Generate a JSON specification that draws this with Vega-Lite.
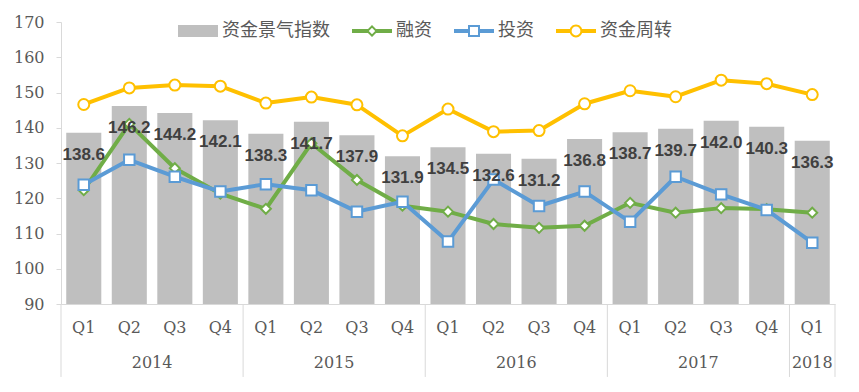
{
  "$schema": "https://vega.github.io/schema/vega-lite/v6.json",
  "width": 774,
  "height": 282,
  "autosize": {"type": "none"},
  "padding": {"left": 61, "top": 22, "right": 24, "bottom": 88},
  "background": "white",
  "config": {
    "view": {"stroke": null},
    "font": "Liberation Sans",
    "axisY": {"labelOverlap": false, "grid": false, "title": null, "domainColor": "#d9d9d9", "tickColor": "#d9d9d9", "tickSize": 5,
      "labelColor": "#595959", "labelFont": "DejaVu Serif", "labelFontSize": 16, "labelPadding": 12}
  },
  "data": {"values": [
    {"q": "2014Q1", "idx": 138.6, "fin": 122.3, "inv": 123.8, "turn": 146.6},
    {"q": "2014Q2", "idx": 146.2, "fin": 141.1, "inv": 130.9, "turn": 151.3},
    {"q": "2014Q3", "idx": 144.2, "fin": 128.5, "inv": 126.1, "turn": 152.1},
    {"q": "2014Q4", "idx": 142.1, "fin": 121.3, "inv": 121.9, "turn": 151.8},
    {"q": "2015Q1", "idx": 138.3, "fin": 117.0, "inv": 124.0, "turn": 147.0},
    {"q": "2015Q2", "idx": 141.7, "fin": 135.6, "inv": 122.3, "turn": 148.7},
    {"q": "2015Q3", "idx": 137.9, "fin": 125.2, "inv": 116.2, "turn": 146.5},
    {"q": "2015Q4", "idx": 131.9, "fin": 117.9, "inv": 119.0, "turn": 137.7},
    {"q": "2016Q1", "idx": 134.5, "fin": 116.2, "inv": 107.7, "turn": 145.3},
    {"q": "2016Q2", "idx": 132.6, "fin": 112.7, "inv": 125.3, "turn": 138.9},
    {"q": "2016Q3", "idx": 131.2, "fin": 111.6, "inv": 117.8, "turn": 139.2},
    {"q": "2016Q4", "idx": 136.8, "fin": 112.2, "inv": 121.9, "turn": 146.8},
    {"q": "2017Q1", "idx": 138.7, "fin": 118.7, "inv": 113.3, "turn": 150.5},
    {"q": "2017Q2", "idx": 139.7, "fin": 115.9, "inv": 126.1, "turn": 148.8},
    {"q": "2017Q3", "idx": 142.0, "fin": 117.2, "inv": 121.1, "turn": 153.5},
    {"q": "2017Q4", "idx": 140.3, "fin": 116.9, "inv": 116.7, "turn": 152.5},
    {"q": "2018Q1", "idx": 136.3, "fin": 115.9, "inv": 107.4, "turn": 149.4}
  ]},
  "encoding": {
    "x": {
      "field": "q", "type": "ordinal",
      "scale": {"paddingInner": 0, "paddingOuter": 0},
      "axis": {
        "title": null, "labelAngle": 0, "ticks": false,
        "labelExpr": "substring(datum.value, 4)",
        "domainColor": "#d9d9d9", "labelColor": "#595959",
        "labelFont": "DejaVu Serif", "labelFontSize": 16, "labelPadding": 15
      }
    }
  },
  "layer": [
    {
      "mark": {"type": "bar", "width": {"band": 0.77}, "color": "#bfbfbf"},
      "encoding": {
        "y": {
          "field": "idx", "type": "quantitative",
          "scale": {"domain": [90, 170], "nice": false, "zero": false},
          "axis": {"values": [90, 100, 110, 120, 130, 140, 150, 160, 170], "labelOverlap": false}
        },
        "y2": {"datum": 90}
      }
    },
    {
      "mark": {"type": "line", "strokeWidth": 4, "strokeJoin": "round",
        "point": {"shape": "diamond", "size": 100, "filled": true, "fill": "white", "stroke": "#70ad47", "strokeWidth": 2}},
      "encoding": {
        "y": {"field": "fin", "type": "quantitative", "axis": {"values": [90, 100, 110, 120, 130, 140, 150, 160, 170], "labelOverlap": false}},
        "color": {
          "datum": "融资", "type": "nominal",
          "scale": {"domain": ["资金景气指数", "融资", "投资", "资金周转"], "range": ["#bfbfbf", "#70ad47", "#5b9bd5", "#ffc000"]},
          "legend": {
            "orient": "none", "legendX": 117, "legendY": -11, "direction": "horizontal",
            "title": null, "padding": 0, "symbolSize": 1600, "columnPadding": 22, "labelOffset": 4,
            "symbolStrokeWidth": 0,
            "labelFont": "Noto Sans CJK SC", "labelFontSize": 18, "labelColor": "#595959",
            "encode": {"symbols": {"update": {
              "shape": {"signal": "datum.value === '资金景气指数' ? 'M-1,-0.3H1V0.3H-1Z' : datum.value === '融资' ? 'M-1,-0.1H-0.2V0.1H-1ZM0.2,-0.1H1V0.1H0.2ZM0,-0.3L0.3,0L0,0.3L-0.3,0ZM0,-0.16L-0.16,0L0,0.16L0.16,0Z' : datum.value === '投资' ? 'M-1,-0.1H-0.3V0.1H-1ZM0.3,-0.1H1V0.1H0.3ZM-0.3,-0.3H0.3V0.3H-0.3ZM-0.2,-0.2V0.2H0.2V-0.2Z' : 'M-1,-0.1H-0.28V0.1H-1ZM0.28,-0.1H1V0.1H0.28ZM0.32,0A0.32,0.32,0,1,1,-0.32,0A0.32,0.32,0,1,1,0.32,0ZM0.22,0A0.22,0.22,0,1,0,-0.22,0A0.22,0.22,0,1,0,0.22,0Z'"},
              "opacity": {"value": 1}
            }}}
          }
        }
      }
    },
    {
      "mark": {"type": "line", "strokeWidth": 4, "strokeJoin": "round",
        "point": {"shape": "square", "size": 110, "filled": true, "fill": "white", "stroke": "#5b9bd5", "strokeWidth": 2}},
      "encoding": {
        "y": {"field": "inv", "type": "quantitative", "axis": {"values": [90, 100, 110, 120, 130, 140, 150, 160, 170], "labelOverlap": false}},
        "color": {"datum": "投资", "type": "nominal"}
      }
    },
    {
      "mark": {"type": "line", "strokeWidth": 4, "strokeJoin": "round",
        "point": {"shape": "circle", "size": 121, "filled": true, "fill": "white", "stroke": "#ffc000", "strokeWidth": 2}},
      "encoding": {
        "y": {"field": "turn", "type": "quantitative", "axis": {"values": [90, 100, 110, 120, 130, 140, 150, 160, 170], "labelOverlap": false}},
        "color": {"datum": "资金周转", "type": "nominal"}
      }
    },
    {
      "mark": {"type": "text", "dy": 22, "fontSize": 17, "fontWeight": "bold", "color": "#404040", "font": "Liberation Sans"},
      "encoding": {
        "y": {"field": "idx", "type": "quantitative", "axis": {"values": [90, 100, 110, 120, 130, 140, 150, 160, 170], "labelOverlap": false}},
        "text": {"field": "idx", "type": "quantitative", "format": ".1f"}
      }
    },
    {
      "data": {"values": [{"q": "2014Q4"}, {"q": "2015Q4"}, {"q": "2016Q4"}, {"q": "2017Q4"}, {"q": "2018Q1"}]},
      "mark": {"type": "rule", "color": "#d9d9d9", "strokeWidth": 1},
      "encoding": {
        "x": {"field": "q", "type": "ordinal", "bandPosition": 1},
        "y": {"datum": 90, "type": "quantitative", "axis": {"values": [90, 100, 110, 120, 130, 140, 150, 160, 170], "labelOverlap": false}},
        "y2": {"datum": 69.3}
      }
    },
    {
      "data": {"values": [{"q": "2014Q1"}]},
      "mark": {"type": "rule", "color": "#d9d9d9", "strokeWidth": 1},
      "encoding": {
        "x": {"field": "q", "type": "ordinal", "bandPosition": 0},
        "y": {"datum": 90, "type": "quantitative", "axis": {"values": [90, 100, 110, 120, 130, 140, 150, 160, 170], "labelOverlap": false}},
        "y2": {"datum": 69.3}
      }
    },
    {
      "data": {"values": [{"q": "2014Q2", "year": "2014"}, {"q": "2015Q2", "year": "2015"}, {"q": "2016Q2", "year": "2016"}, {"q": "2017Q2", "year": "2017"}]},
      "mark": {"type": "text", "fontSize": 16, "color": "#595959", "font": "DejaVu Serif"},
      "encoding": {
        "x": {"field": "q", "type": "ordinal", "bandPosition": 1},
        "y": {"datum": 73.3, "type": "quantitative", "axis": {"values": [90, 100, 110, 120, 130, 140, 150, 160, 170], "labelOverlap": false}},
        "text": {"field": "year"}
      }
    },
    {
      "data": {"values": [{"q": "2018Q1", "year": "2018"}]},
      "mark": {"type": "text", "fontSize": 16, "color": "#595959", "font": "DejaVu Serif"},
      "encoding": {
        "x": {"field": "q", "type": "ordinal", "bandPosition": 0.5},
        "y": {"datum": 73.3, "type": "quantitative", "axis": {"values": [90, 100, 110, 120, 130, 140, 150, 160, 170], "labelOverlap": false}},
        "text": {"field": "year"}
      }
    }
  ]
}
